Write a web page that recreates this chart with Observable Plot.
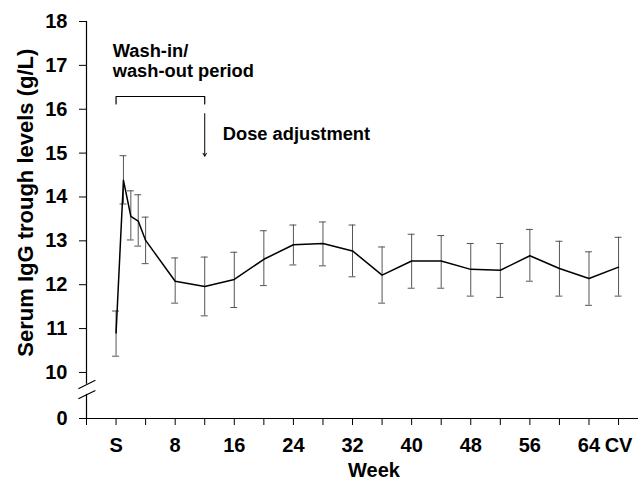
<!DOCTYPE html>
<html>
<head>
<meta charset="utf-8">
<script src="https://cdn.jsdelivr.net/npm/d3@7"></script>
<script src="https://cdn.jsdelivr.net/npm/@observablehq/plot@0.6"></script>
<style>
  html, body { margin: 0; padding: 0; background: #fff; }
</style>
</head>
<body>
<div id="chart"></div>
<script>
// ---- data ----
const weeks = [0, 1, 2, 3, 4, 8, 12, 16, 20, 24, 28, 32, 36, 40, 44, 48, 52, 56, 60, 64, 68];
const meanIgG = [10.90, 14.38, 13.56, 13.45, 13.01, 12.08, 11.96, 12.12, 12.58, 12.91, 12.94, 12.77, 12.22, 12.54, 12.54, 12.35, 12.33, 12.66, 12.37, 12.14, 12.40];
const upperIgG = [11.40, 14.94, 14.14, 14.05, 13.54, 12.61, 12.63, 12.74, 13.23, 13.36, 13.43, 13.36, 12.86, 13.15, 13.12, 12.94, 12.94, 13.26, 12.99, 12.75, 13.08];
const lowerIgG = [10.37, 13.84, 13.02, 12.88, 12.48, 11.58, 11.29, 11.48, 11.98, 12.45, 12.43, 12.18, 11.58, 11.92, 11.92, 11.74, 11.71, 12.08, 11.74, 11.53, 11.74];

const xTickValues = [-4, 0, 4, 8, 12, 16, 20, 24, 28, 32, 36, 40, 44, 48, 52, 56, 60, 64, 68];
const xTickLabels = ["", "S", "", "8", "", "16", "", "24", "", "32", "", "40", "", "48", "", "56", "", "64", "CV"];

// broken y axis: the "0" tick is drawn just below 10
const ZERO_POS = 8.95;
const yTickValues = [ZERO_POS, 10, 11, 12, 13, 14, 15, 16, 17, 18];
const yTickLabels = ["0", "10", "11", "12", "13", "14", "15", "16", "17", "18"];

const washStart = 0, doseWeek = 12;

const data = weeks.map((w, i) => ({week: w, mean: meanIgG[i], lo: lowerIgG[i], hi: upperIgG[i]}));

const X0 = -4, X1 = 70.7;
const BREAK_TOP = 9.73, BREAK_BOT = 9.5;
const font = "'Liberation Sans', Arial, Helvetica, sans-serif";
const capHalf = 0.47; // half cap width in weeks
const annSize = 18.3;

const chart = Plot.plot({
  width: 638,
  height: 480,
  marginTop: 21,
  marginBottom: 62,
  marginLeft: 86,
  marginRight: 0,
  style: {fontFamily: font, fontWeight: "bold", fontSize: "20px", background: "#fff", color: "#000", overflow: "visible"},
  x: {domain: [X0, X1]},
  y: {domain: [ZERO_POS, 18]},
  marks: [
    Plot.axisX({ticks: xTickValues, tickSize: 7, tickPadding: 12, tickFormat: d => xTickLabels[xTickValues.indexOf(d)], label: null, stroke: "#000"}),
    Plot.axisY({ticks: yTickValues, tickSize: 7, tickPadding: 12, tickFormat: d => yTickLabels[yTickValues.indexOf(d)], label: null, stroke: "#000"}),
    // axis lines
    Plot.ruleY([ZERO_POS], {stroke: "#000", strokeWidth: 1.2}),
    Plot.ruleX([X0], {y1: 18, y2: BREAK_TOP, stroke: "#000", strokeWidth: 1.2}),
    Plot.ruleX([X0], {y1: BREAK_BOT, y2: ZERO_POS, stroke: "#000", strokeWidth: 1.2}),
    // break marks
    Plot.link([{a: BREAK_TOP - 0.1, b: BREAK_TOP + 0.09}, {a: BREAK_BOT - 0.1, b: BREAK_BOT + 0.09}], {
      x1: () => X0 - 1.1, x2: () => X0 + 1.2, y1: "a", y2: "b", stroke: "#000", strokeWidth: 1.2
    }),
    // error bars
    Plot.ruleX(data, {x: "week", y1: "lo", y2: "hi", stroke: "#555", strokeWidth: 1}),
    Plot.ruleY(data, {y: "hi", x1: d => d.week - capHalf, x2: d => d.week + capHalf, stroke: "#555", strokeWidth: 1}),
    Plot.ruleY(data, {y: "lo", x1: d => d.week - capHalf, x2: d => d.week + capHalf, stroke: "#555", strokeWidth: 1}),
    // mean line
    Plot.line(data, {x: "week", y: "mean", stroke: "#000", strokeWidth: 1.5}),
    // wash-in bracket
    Plot.line([{x: washStart, y: 16.12}, {x: washStart, y: 16.29}, {x: doseWeek, y: 16.29}, {x: doseWeek, y: 16.12}], {x: "x", y: "y", stroke: "#000", strokeWidth: 1.2}),
    Plot.text(["Wash-in/"], {x: () => -0.45, y: () => 17.32, textAnchor: "start", fontSize: annSize, fontWeight: "bold", fill: "#000"}),
    Plot.text(["wash-out period"], {x: () => -0.45, y: () => 16.86, textAnchor: "start", fontSize: annSize, fontWeight: "bold", fill: "#000"}),
    // dose adjustment arrow
    Plot.arrow([{x: doseWeek, y1: 15.9, y2: 14.93}], {x: "x", y1: "y1", y2: "y2", stroke: "#000", strokeWidth: 1, headLength: 5}),
    Plot.text(["Dose adjustment"], {x: () => 14.44, y: () => 15.44, textAnchor: "start", fontSize: annSize, fontWeight: "bold", fill: "#000"}),
    // axis titles
    Plot.text(["Serum IgG trough levels (g/L)"], {x: () => -12.25, y: () => 13.87, rotate: -90, fontSize: 22, fontWeight: "bold", fill: "#000"}),
    Plot.text(["Week"], {x: () => 34.9, frameAnchor: "bottom", dy: 58, fontSize: 20, fontWeight: "bold", fill: "#000"})
  ]
});
document.getElementById("chart").appendChild(chart);
</script>
</body>
</html>
